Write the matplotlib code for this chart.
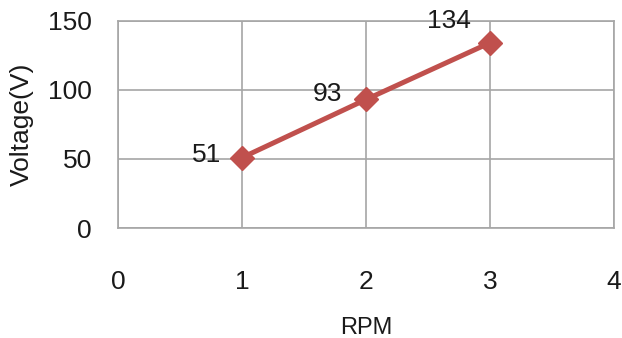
import matplotlib
matplotlib.use("Agg")
import matplotlib.pyplot as plt

rpm = [1, 2, 3]
voltage = [51, 93, 134]
xticks = [0, 1, 2, 3, 4]
yticks = [0, 50, 100, 150]

plt.rcParams['font.family'] = ['Liberation Sans Narrow', 'Liberation Sans', 'DejaVu Sans']

fig = plt.figure(figsize=(6.22, 3.38), dpi=100)
ax = fig.add_axes([0.190, 0.325, 0.797, 0.614])

ax.plot(rpm, voltage, color="#C0504D", linewidth=3.6, marker="D", markersize=12,
        markeredgecolor="#C0504D", markerfacecolor="#C0504D", zorder=3)

# data labels, sitting left of each point like Excel's
offsets = [(-15, 2), (-17, 4), (-14, 16)]
for x, y, off in zip(rpm, voltage, offsets):
    ax.annotate(str(y), (x, y), xytext=off, textcoords="offset points",
                ha="right", va="center", fontsize=19, color="#1a1a1a")

ax.set_xlim(0, 4)
ax.set_ylim(0, 150)
ax.set_xticks(xticks)
ax.set_yticks(yticks)
ax.grid(True, color="#A6A6A6", linewidth=1.2)
ax.set_axisbelow(True)
for s in ax.spines.values():
    s.set_color("#A6A6A6")
    s.set_linewidth(1.2)
ax.tick_params(axis="x", length=0, pad=30, labelsize=19, labelcolor="#1a1a1a")
ax.tick_params(axis="y", length=0, pad=19, labelsize=19, labelcolor="#1a1a1a")
ax.set_xlabel("RPM", fontsize=17, color="#1a1a1a", labelpad=17)
ax.set_ylabel("Voltage(V)", fontsize=19, color="#1a1a1a", labelpad=10)

fig.savefig("out.png", dpi=100)
